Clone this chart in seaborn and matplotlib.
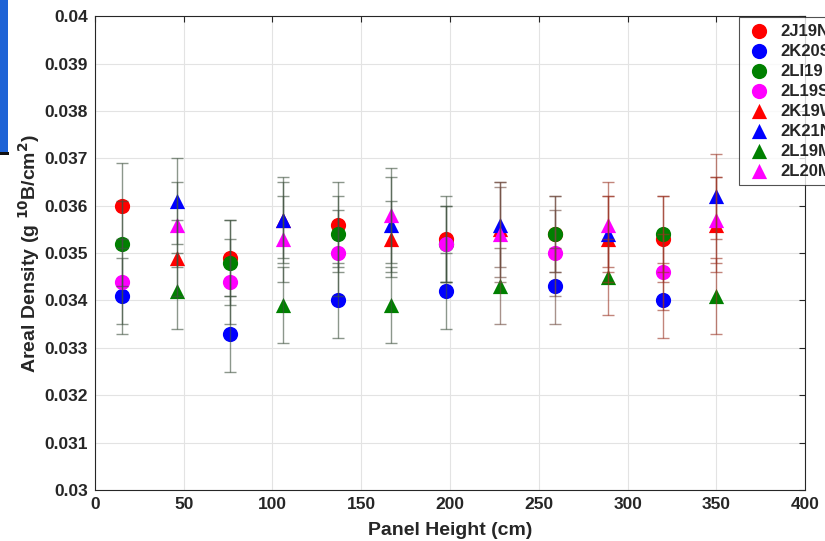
import numpy as np
import pandas as pd
import matplotlib
matplotlib.use("Agg")
import matplotlib.pyplot as plt
import seaborn as sns
from matplotlib.patches import Rectangle

# ---- data ----
circle_x = [15, 76, 137, 198, 259, 320]
tri_x = [46, 106, 167, 228, 289, 350]

labels = ["2J19N", "2K20S", "2LI19", "2L19S", "2K19W", "2K21N", "2L19M", "2L20M"]

v_2J19N = [0.0360, 0.0349, 0.0356, 0.0353, 0.0354, 0.0353]
v_2K20S = [0.0341, 0.0333, 0.0340, 0.0342, 0.0343, 0.0340]
v_2LI19 = [0.0352, 0.0348, 0.0354, 0.0352, 0.0354, 0.0354]
v_2L19S = [0.0344, 0.0344, 0.0350, 0.0352, 0.0350, 0.0346]
v_2K19W = [0.0349, 0.0357, 0.0353, 0.0355, 0.0353, 0.0356]
v_2K21N = [0.0361, 0.0357, 0.0356, 0.0356, 0.0354, 0.0362]
v_2L19M = [0.0342, 0.0339, 0.0339, 0.0343, 0.0345, 0.0341]
v_2L20M = [0.0356, 0.0353, 0.0358, 0.0354, 0.0356, 0.0357]

e_2J19N = [0.0009, 0.0008, 0.0009, 0.0009, 0.0008, 0.0009]
e_2K20S = [0.0008, 0.0008, 0.0008, 0.0008, 0.0008, 0.0008]
e_2LI19 = [0.0009, 0.0009, 0.0008, 0.0008, 0.0008, 0.0008]
e_2L19S = [0.0009, 0.0009, 0.0009, 0.0008, 0.0009, 0.0008]
e_2K19W = [0.0008, 0.0009, 0.0008, 0.0010, 0.0009, 0.0010]
e_2K21N = [0.0009, 0.0008, 0.0010, 0.0009, 0.0008, 0.0009]
e_2L19M = [0.0008, 0.0008, 0.0008, 0.0008, 0.0008, 0.0008]
e_2L20M = [0.0009, 0.0009, 0.0010, 0.0010, 0.0009, 0.0009]

x_ticks = [0, 50, 100, 150, 200, 250, 300, 350, 400]
y_ticks = [0.03, 0.031, 0.032, 0.033, 0.034, 0.035, 0.036, 0.037, 0.038, 0.039, 0.04]
y_tick_labels = ["0.03", "0.031", "0.032", "0.033", "0.034", "0.035", "0.036",
                 "0.037", "0.038", "0.039", "0.04"]

# ---- style ----
sns.set_style("white")
plt.rcParams["font.family"] = ["Liberation Sans", "DejaVu Sans"]
plt.rcParams["font.weight"] = "bold"

series = [
    (labels[0], circle_x, v_2J19N, e_2J19N, "red", "o"),
    (labels[1], circle_x, v_2K20S, e_2K20S, "blue", "o"),
    (labels[2], circle_x, v_2LI19, e_2LI19, "green", "o"),
    (labels[3], circle_x, v_2L19S, e_2L19S, "magenta", "o"),
    (labels[4], tri_x, v_2K19W, e_2K19W, "red", "^"),
    (labels[5], tri_x, v_2K21N, e_2K21N, "blue", "^"),
    (labels[6], tri_x, v_2L19M, e_2L19M, "green", "^"),
    (labels[7], tri_x, v_2L20M, e_2L20M, "magenta", "^"),
]

# error bar colour by panel height (greenish grey -> reddish brown)
def ecol(x):
    if x < 215:
        return "#3f523f"
    if x < 275:
        return "#6e4a3e"
    return "#9a3424"

fig = plt.figure(figsize=(8.25, 5.41), dpi=100)
ax = fig.add_axes([0.115, 0.0943, 0.861, 0.8757])

for name, xs, vs, es, c, m in series:
    df = pd.DataFrame({"x": xs, "y": vs})
    sns.scatterplot(data=df, x="x", y="y", color=c, marker=m, s=120,
                    edgecolor=c, linewidth=0, ax=ax, label=name, zorder=3)

for name, xs, vs, es, c, m in series:
    for xi, vi, ei in zip(xs, vs, es):
        ax.errorbar([xi], [vi], yerr=[ei], fmt="none", ecolor=ecol(xi),
                    elinewidth=1.0, capsize=4.5, capthick=1.0, alpha=0.6, zorder=4)

ax.set_xlim(0, 400)
ax.set_ylim(0.03, 0.04)
ax.set_xticks(x_ticks)
ax.set_yticks(y_ticks)
ax.set_yticklabels(y_tick_labels)
ax.grid(True, color="#e3e3e3", linewidth=0.8)
ax.set_axisbelow(True)
ax.tick_params(direction="in", length=4, width=0.8, top=True, right=True,
               labelsize=12.5, colors="#262626", labelcolor="#262626", pad=5)
for lab in ax.get_xticklabels() + ax.get_yticklabels():
    lab.set_fontweight("bold")
for sp in ax.spines.values():
    sp.set_color("#262626")
    sp.set_linewidth(0.8)

ax.set_xlabel("Panel Height (cm)", fontsize=14, fontweight="bold", color="#262626", labelpad=7)
ax.set_ylabel(r"Areal Density (g $^{\mathbf{10}}$B/cm$^{\mathbf{2}}$)", fontsize=14,
              fontweight="bold", color="#262626", labelpad=2)

leg = ax.legend(loc="upper left", bbox_to_anchor=(739 / 825, 1 - 17 / 541),
                bbox_transform=fig.transFigure, frameon=True, fancybox=False,
                prop={"weight": "bold", "size": 12}, borderpad=0.4,
                borderaxespad=0, labelspacing=0.3, handletextpad=0.5,
                handlelength=1.6, markerscale=1.0)
leg.get_frame().set_edgecolor("#262626")
leg.get_frame().set_linewidth(0.8)

# blue window fragment at the left edge
fig.patches.append(Rectangle((0, 1 - 152 / 541), 8 / 825, 152 / 541,
                             transform=fig.transFigure, facecolor="#1e63d6",
                             edgecolor="none", zorder=0))
fig.patches.append(Rectangle((0, 1 - 155 / 541), 9 / 825, 3 / 541,
                             transform=fig.transFigure, facecolor="#111111",
                             edgecolor="none", zorder=0))

fig.savefig("out.png", dpi=100)
